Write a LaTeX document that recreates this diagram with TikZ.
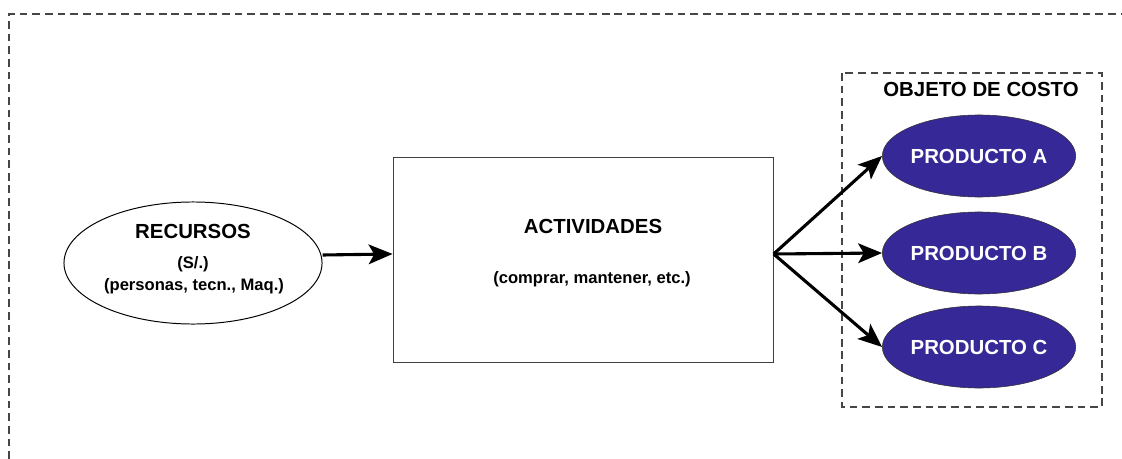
\documentclass[tikz,border=0pt]{standalone}
\usepackage{fontspec}
\setmainfont{Liberation Sans}
\usetikzlibrary{arrows.meta,positioning,shapes.geometric}
\definecolor{prodblue}{RGB}{54, 40, 150}
\definecolor{framegrey}{RGB}{70, 70, 70}

\begin{document}
\begin{tikzpicture}[x=0.025cm, y=-0.025cm, >={Stealth[length=17pt, width=14pt, inset=4pt]}]
    \useasboundingbox (0,0) rectangle (1122,459);
    \tikzset{
        titletext/.style={font=\fontsize{14.5}{17}\selectfont\bfseries, inner sep=0pt},
        subtext/.style={font=\fontsize{11.8}{14}\selectfont\bfseries, inner sep=0pt},
        prod/.style={draw=black!80, ellipse, fill=prodblue, text=white, minimum width=4.2cm, minimum height=2.05cm, inner sep=0pt, font=\fontsize{14.5}{17}\selectfont\bfseries},
        flow/.style={->, line width=2.2pt},
        dashframe/.style={dashed, dash pattern=on 5.5pt off 3.5pt, line width=0.8pt, framegrey}
    }
    % outer frame, open at right and bottom
    \draw [dashframe] (9,459) -- (9,14) -- (1122,14);

    \node [draw, ellipse, line width=0.7pt, minimum width=6.45cm, minimum height=3.05cm, inner sep=0pt] (rec) at (193,263) {};
    \node [titletext, anchor=base] (recT) at (193,238) {RECURSOS};
    \node [subtext, anchor=base] (recS) at (193,268) {(S/.)};
    \node [subtext, anchor=base] (recP) at (194,290) {(personas, tecn., Maq.)};

    \node [draw=black!75, rectangle, line width=0.7pt, minimum width=9.5cm, minimum height=5.1cm, right=1.75cm of rec, yshift=0.075cm] (act) {};
    \node [titletext, anchor=base] (actT) at (593,233) {ACTIVIDADES};
    \node [subtext, anchor=base] (actS) at (592,283) {(comprar, mantener, etc.)};

    % objeto de costo
    \draw [dashframe] (842,73) rectangle (1102,407);
    \node [titletext, anchor=base] (objT) at (981,97) {OBJETO DE COSTO};
    \node [prod] (pA) at (979,156) {PRODUCTO A};
    \node [prod] (pB) at (979,253) {PRODUCTO B};
    \node [prod] (pC) at (979,347) {PRODUCTO C};

    \draw [flow] ([yshift=0.2cm]rec.east) -- ([yshift=0.15cm]act.west);
    \draw [flow] ([yshift=0.15cm]act.east) -- (pA.west);
    \draw [flow] ([yshift=0.15cm]act.east) -- (pB.west);
    \draw [flow] ([yshift=0.15cm]act.east) -- (pC.west);
\end{tikzpicture}
\end{document}
